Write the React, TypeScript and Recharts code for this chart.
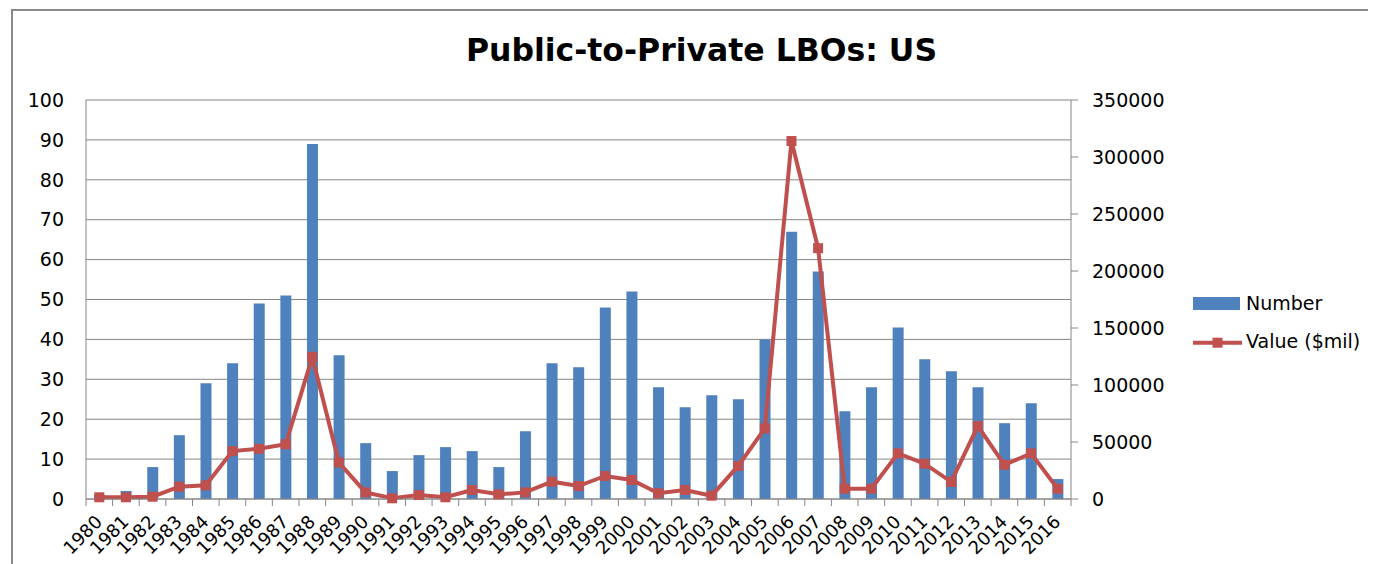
import { ComposedChart, Bar, Line, XAxis, YAxis, CartesianGrid } from "recharts";

const years = [
  "1980", "1981", "1982", "1983", "1984", "1985", "1986", "1987", "1988", "1989",
  "1990", "1991", "1992", "1993", "1994", "1995", "1996", "1997", "1998", "1999",
  "2000", "2001", "2002", "2003", "2004", "2005", "2006", "2007", "2008", "2009",
  "2010", "2011", "2012", "2013", "2014", "2015", "2016",
];

const numberOfDeals = [
  1, 2, 8, 16, 29, 34, 49, 51, 89, 36,
  14, 7, 11, 13, 12, 8, 17, 34, 33, 48,
  52, 28, 23, 26, 25, 40, 67, 57, 22, 28,
  43, 35, 32, 28, 19, 24, 5,
];

const dealValue = [
  1500, 1500, 2000, 10800, 12000, 42000, 44000, 48000, 124500, 32000,
  5800, 600, 3500, 1500, 7900, 4100, 5800, 15200, 11400, 20200,
  16700, 5000, 7900, 2900, 29000, 62000, 314000, 220000, 9000, 9000,
  40000, 31000, 15000, 64000, 30000, 40000, 9000,
];

const leftTicks = [0, 10, 20, 30, 40, 50, 60, 70, 80, 90, 100];
const rightTicks = [0, 50000, 100000, 150000, 200000, 250000, 300000, 350000];

const data = years.map((year, i) => ({
  year,
  number: numberOfDeals[i],
  value: dealValue[i],
}));

const BLUE = "#4F81BD";
const RED = "#C0504D";
const AXIS = "#868686";
const FONT = "'DejaVu Sans', sans-serif";

const YearTick = (props: any) => {
  const { x, y, payload, index, visibleTicksCount } = props;
  const half = payload?.offset ?? 13.3;
  const isLast = index === visibleTicksCount - 1;
  return (
    <g>
      <line x1={x - half} y1={y} x2={x - half} y2={y + 7} stroke={AXIS} />
      {isLast && <line x1={x + half} y1={y} x2={x + half} y2={y + 7} stroke={AXIS} />}
      <text
        x={x + 4}
        y={y + 24}
        textAnchor="end"
        transform={`rotate(-45, ${x + 4}, ${y + 24})`}
        fontSize={18}
        fontFamily={FONT}
        fill="#000"
      >
        {payload.value}
      </text>
    </g>
  );
};

const SquareDot = (props: any) => {
  const { cx, cy, index } = props;
  if (cx == null || cy == null) return <g key={index} />;
  return <rect key={index} x={cx - 5} y={cy - 5} width={10} height={10} fill={RED} />;
};

export default function App() {
  return (
    <div style={{ position: "relative", width: 1360, height: 556 }}>
      <div
        style={{
          position: "absolute",
          left: 3,
          top: 1,
          width: 1357,
          height: 555,
          borderTop: "2px solid #8a8a8a",
          borderLeft: "2px solid #8a8a8a",
          boxSizing: "border-box",
        }}
      />
      <ComposedChart
        width={1360}
        height={556}
        data={data}
        margin={{ top: 92, right: 0, bottom: 0, left: 0 }}
      >
        <CartesianGrid yAxisId="left" vertical={false} stroke={AXIS} />
        <XAxis
          dataKey="year"
          height={65}
          interval={0}
          tickLine={false}
          tickSize={0}
          tickMargin={0}
          axisLine={{ stroke: AXIS }}
          tick={<YearTick />}
        />
        <YAxis
          yAxisId="left"
          width={78}
          domain={[0, 100]}
          ticks={leftTicks}
          tickLine={false}
          tickSize={0}
          tickMargin={22}
          axisLine={{ stroke: AXIS }}
          tick={{ fontSize: 19, fontFamily: FONT, fill: "#000" }}
        />
        <YAxis
          yAxisId="right"
          orientation="right"
          width={297}
          domain={[0, 350000]}
          ticks={rightTicks}
          tickSize={7}
          tickMargin={14}
          tickLine={{ stroke: AXIS }}
          axisLine={{ stroke: AXIS }}
          tick={{ fontSize: 19, fontFamily: FONT, fill: "#000" }}
        />
        <Bar yAxisId="left" dataKey="number" fill={BLUE} barSize={11} isAnimationActive={false} />
        <Line
          yAxisId="right"
          dataKey="value"
          type="linear"
          stroke={RED}
          strokeWidth={4}
          dot={<SquareDot />}
          activeDot={false}
          isAnimationActive={false}
        />
      </ComposedChart>
      <svg
        width={1360}
        height={556}
        style={{ position: "absolute", left: 0, top: 0, pointerEvents: "none" }}
      >
        <text
          x={693.5}
          y={53}
          textAnchor="middle"
          fontFamily={FONT}
          fontWeight="bold"
          fontSize={31.5}
          fill="#000"
        >
          Public-to-Private LBOs: US
        </text>
        <rect x={1185} y={289} width={47} height={13} fill={BLUE} />
        <text x={1238} y={302} fontFamily={FONT} fontSize={19} fill="#000">
          Number
        </text>
        <line x1={1185} y1={334.7} x2={1234} y2={334.7} stroke={RED} strokeWidth={4} />
        <rect x={1204.5} y={329.7} width={10} height={10} fill={RED} />
        <text x={1238} y={340} fontFamily={FONT} fontSize={19} fill="#000">
          Value ($mil)
        </text>
      </svg>
    </div>
  );
}
